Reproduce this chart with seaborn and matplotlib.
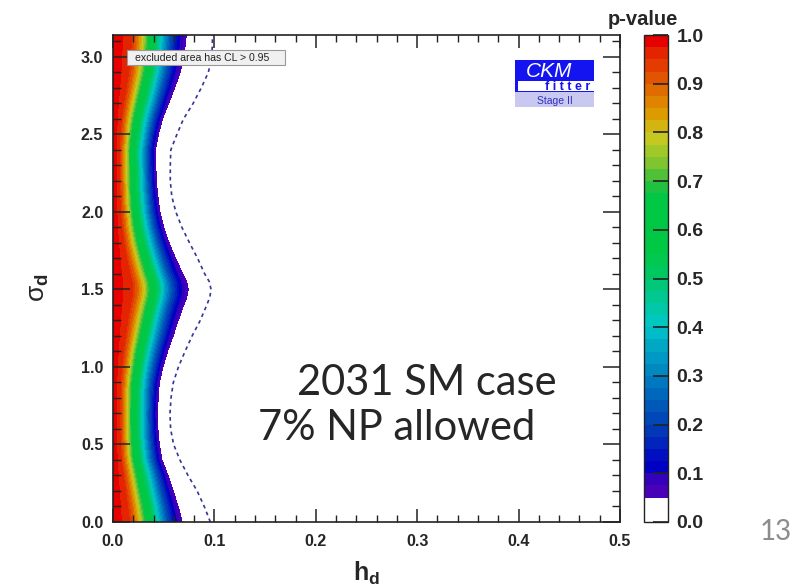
import numpy as np
import matplotlib
matplotlib.use("Agg")
import matplotlib.pyplot as plt
import seaborn as sns
from matplotlib.patches import Rectangle
from matplotlib.ticker import MultipleLocator

# ---------------- data ----------------
sigma_d = [0.0, 0.1, 0.2, 0.3, 0.4, 0.5, 0.6, 0.7, 0.8, 0.9, 1.0, 1.1, 1.2, 1.3, 1.4,
           1.45, 1.5, 1.55, 1.6, 1.7, 1.8, 1.9, 2.0, 2.1, 2.2, 2.3, 2.4, 2.5, 2.6, 2.7,
           2.8, 2.9, 3.0, 3.1, 3.14159]
# h_d where the p-value falls to 0.05 (edge of coloured region)
h_edge_05 = [0.068, 0.064, 0.059, 0.054, 0.048, 0.0455, 0.044, 0.0437, 0.0443, 0.0455,
             0.049, 0.0535, 0.059, 0.064, 0.0695, 0.0725, 0.074, 0.0725, 0.0685, 0.0615,
             0.055, 0.0497, 0.046, 0.044, 0.0425, 0.042, 0.0416, 0.0445, 0.0485, 0.0545,
             0.0605, 0.066, 0.0695, 0.0715, 0.072]
# dashed contour
h_dashed = [0.096, 0.090, 0.083, 0.074, 0.066, 0.0598, 0.0568, 0.0562, 0.0572, 0.0595,
            0.0645, 0.071, 0.078, 0.086, 0.0925, 0.0955, 0.0967, 0.0950, 0.0905, 0.0835,
            0.0755, 0.068, 0.062, 0.058, 0.0565, 0.0565, 0.057, 0.063, 0.0695, 0.079,
            0.087, 0.094, 0.0975, 0.098, 0.098]
# p-value profile across h_d (fraction of the 0.05 edge), wide and narrow rows
p_levels = [1.0, 0.95, 0.90, 0.80, 0.65, 0.50, 0.38, 0.22, 0.12, 0.05, 0.0]
t_wide = [0.0, 0.26, 0.32, 0.40, 0.50, 0.60, 0.67, 0.78, 0.88, 1.00, 1.12]
t_narrow = [0.0, 0.14, 0.20, 0.29, 0.41, 0.56, 0.67, 0.81, 0.92, 1.00, 1.12]

band_colors = ["#ffffff", "#ffffff", "#4800b8", "#3400bc", "#0000c4", "#0010c0",
               "#0024bc", "#0038b8", "#0048b8", "#0058b8", "#0068bc", "#0078c0",
               "#0088c0", "#0098c4", "#00a8c4", "#00bcc8", "#00c8c0", "#00c8a8",
               "#00c890", "#00c878", "#00c860", "#00c850", "#00c844", "#00c844",
               "#00c844", "#00c844", "#00c844", "#20c040", "#50c038", "#80c430",
               "#a0c828", "#c4c820", "#d4b410", "#dc9c00", "#e08400", "#e06c00",
               "#e25400", "#e43c00", "#e42400", "#e60000"]

x_ticks = [0.0, 0.1, 0.2, 0.3, 0.4, 0.5]
y_ticks = [0.0, 0.5, 1.0, 1.5, 2.0, 2.5, 3.0]
cbar_ticks = [0.0, 0.1, 0.2, 0.3, 0.4, 0.5, 0.6, 0.7, 0.8, 0.9, 1.0]

# ---------------- style ----------------
sns.set_style("white")
plt.rcParams["font.family"] = ["Liberation Sans", "DejaVu Sans"]
plt.rcParams["mathtext.fontset"] = "custom"
plt.rcParams["mathtext.rm"] = "Liberation Sans"
plt.rcParams["mathtext.it"] = "Liberation Sans:italic"
plt.rcParams["mathtext.bf"] = "Liberation Sans:bold"
plt.rcParams["axes.axisbelow"] = False

W, H = 795, 587
fig = plt.figure(figsize=(W / 100, H / 100), dpi=100)


def fx(x):
    return x / W


def fy(y):
    return 1 - y / H


ax = fig.add_axes([fx(113), fy(522), (620 - 113) / W, (522 - 35) / H])
ax.set_axisbelow(False)

# ---------------- p-value field ----------------
S = np.array(sigma_d)
E = np.array(h_edge_05)
w = (E - E.min()) / (E.max() - E.min())
T = w[:, None] * np.array(t_wide)[None, :] + (1 - w[:, None]) * np.array(t_narrow)[None, :]
X = np.hstack([T * E[:, None], np.full((len(S), 1), 0.5)])
Z = np.tile(np.r_[p_levels, 0.0], (len(S), 1))
Y = np.tile(S[:, None], (1, X.shape[1]))
levels = np.linspace(0, 1, 41)
cs = ax.contourf(X, Y, Z, levels=levels, colors=band_colors)
cs.set_edgecolor("face")
cs.set_linewidth(0.3)

sns.lineplot(x=h_dashed, y=sigma_d, sort=False, estimator=None, ax=ax,
             color="#34349a", lw=1.2, linestyle=(0, (2.2, 2.2)), zorder=4)

ax.set_xlim(0, 0.5)
ax.set_ylim(0, np.pi)
ax.set_xticks(x_ticks, labels=[f"{v:.1f}" for v in x_ticks], fontweight="bold", fontsize=11.5)
ax.set_yticks(y_ticks, labels=[f"{v:.1f}" for v in y_ticks], fontweight="bold", fontsize=11.5)
ax.xaxis.set_minor_locator(MultipleLocator(0.02))
ax.yaxis.set_minor_locator(MultipleLocator(0.1))
ax.tick_params(which="both", direction="in", bottom=True, left=True, top=True, right=True,
               color="#222222")
ax.tick_params(axis="x", which="major", length=9.5, width=1.1, pad=9)
ax.tick_params(axis="x", which="minor", length=5, width=1.0)
ax.tick_params(axis="y", which="major", length=12, width=1.1, pad=7)
ax.tick_params(axis="y", which="minor", length=6, width=1.0)
for sp in ax.spines.values():
    sp.set_visible(True)
    sp.set_color("#222222")
    sp.set_linewidth(1.2)
    sp.set_zorder(6)
ax.set_xlabel("")
ax.set_ylabel("")

# legend-like label box
ax.add_patch(Rectangle((0.0276, 0.938), 0.311, 0.031, transform=ax.transAxes,
                       facecolor="#f0f0f0", edgecolor="#999999", lw=0.8, zorder=5))
ax.text(0.043, 0.9535, "excluded area has CL > 0.95", transform=ax.transAxes,
        fontsize=7.6, va="center", ha="left", color="#222222", zorder=6)

# ---------------- colorbar ----------------
cax = fig.add_axes([fx(644), fy(522), 24 / W, (522 - 35) / H])
cax.set_axisbelow(False)
cb = fig.colorbar(cs, cax=cax, ticks=cbar_ticks)
cb.outline.set_linewidth(1.0)
cb.outline.set_edgecolor("#222222")
cax.set_axisbelow(False)
cax.yaxis.set_ticks_position("right")
cax.tick_params(which="major", direction="in", right=True, left=False, length=11, width=1.2,
                color="#222222", pad=6)
cax.set_yticks(cbar_ticks, labels=[f"{v:.1f}" for v in cbar_ticks], fontweight="bold", fontsize=14)
cax.minorticks_off()
fig.text(fx(643), fy(25), "p-value", fontsize=14.5, fontweight="bold",
         ha="center", va="baseline")

# ---------------- axis titles ----------------
fig.text(fx(367), fy(581), r"$\mathbf{h_d}$", fontsize=18, ha="center", va="baseline")
fig.text(fx(39), fy(288), r"$\mathrm{σ}_{\mathbf{d}}$", fontsize=19, rotation=90,
         ha="center", va="center")

# ---------------- CKMfitter logo ----------------
def frect(x0, y0, x1, y1, **kw):
    fig.add_artist(Rectangle((fx(x0), fy(y1)), (x1 - x0) / W, (y1 - y0) / H,
                             transform=fig.transFigure, **kw))


frect(515, 60, 594, 92, facecolor="#1414f0", edgecolor="none")
frect(518, 80.5, 594, 90.5, facecolor="white", edgecolor="none")
frect(515, 92, 594, 107, facecolor="#c8c8f0", edgecolor="none")
fig.text(fx(526), fy(77), "CKM", color="white", fontsize=15, style="italic",
         ha="left", va="baseline")
fig.text(fx(590), fy(90), "f i t t e r", color="#1414f0", fontsize=9, fontweight="bold",
         ha="right", va="baseline")
fig.text(fx(555), fy(103.5), "Stage II", color="#3030c0", fontsize=7.5,
         ha="center", va="baseline")

# ---------------- slide annotations ----------------
fig.text(fx(297), fy(395), "2031 SM case", fontsize=30, family="Lato", ha="left", va="baseline")
fig.text(fx(258), fy(440), "7% NP allowed", fontsize=30, family="Lato", ha="left", va="baseline")
fig.text(fx(760), fy(540), "13", fontsize=20, family="Lato", color="#8c8c8c",
         ha="left", va="baseline")

fig.savefig("out.png", dpi=100)
